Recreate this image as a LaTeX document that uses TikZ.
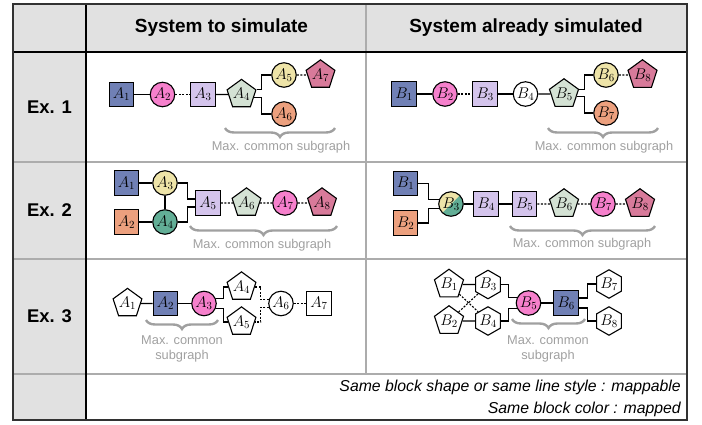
\RequirePackage{fix-cm}
\documentclass[tikz,border=0pt]{standalone}
\usepackage{fontspec}
\setmainfont{Liberation Sans}
\usetikzlibrary{shapes.geometric,decorations.pathreplacing,calc}
\definecolor{cblue}{RGB}{112,128,181}
\definecolor{cpink}{RGB}{246,128,204}
\definecolor{clav}{RGB}{212,196,236}
\definecolor{cgreen}{RGB}{212,226,212}
\definecolor{cyel}{RGB}{238,228,168}
\definecolor{crose}{RGB}{216,122,154}
\definecolor{csalm}{RGB}{236,160,126}
\definecolor{cteal}{RGB}{98,174,150}
\definecolor{cheader}{RGB}{225,225,225}
\definecolor{cgrid}{RGB}{172,172,172}
\definecolor{cborder}{RGB}{50,50,50}
\definecolor{cgray}{RGB}{160,160,160}
\begin{document}
\begin{tikzpicture}[x=1pt,y=-1pt,
  blk/.style={draw=black, line width=1.1pt, inner sep=0pt, font=\fontsize{15.5}{15.5}\selectfont},
  sq/.style={blk, rectangle, minimum size=24.5pt},
  cir/.style={blk, circle, minimum size=24.5pt},
  pent/.style={blk, regular polygon, regular polygon sides=5, minimum size=29pt},
  hex/.style={blk, regular polygon, regular polygon sides=6, shape border rotate=30, minimum size=27pt},
  ln/.style={line width=1.1pt},
  dl/.style={line width=1.1pt, dash pattern=on 2pt off 1.5pt},
  brc/.style={decorate, decoration={brace, mirror, amplitude=9pt}, line width=2.4pt, draw=cgray},
  mcs/.style={text=cgray, font=\fontsize{12.8}{15.5}\selectfont, align=center, inner sep=0pt},
  hd/.style={font=\bfseries\fontsize{19}{19}\selectfont, inner sep=0pt},
  extxt/.style={font=\bfseries\fontsize{18.4}{18.4}\selectfont, inner sep=0pt},
  note/.style={font=\itshape\fontsize{15.8}{16}\selectfont, inner sep=0pt, anchor=east},
  cgridline/.style={draw=cgrid, line width=1.2pt},
]
\useasboundingbox (0,0) rectangle (702,425);
% ---------- table ----------
\fill[cheader] (13,4) rectangle (687,52);
\fill[cheader] (13,52) rectangle (86,420);
\draw[cgridline] (13,162) -- (687,162);
\draw[cgridline] (13,259) -- (687,259);
\draw[cgridline] (13,374) -- (687,374);
\draw[cgridline] (366,4) -- (366,374);
\draw[line width=2.2pt] (86,4) -- (86,420);
\draw[line width=2.4pt] (13,52) -- (687,52);
\draw[cborder, line width=1.2pt] (13,4) rectangle (687,420);
\node[hd] (h1) at (221.5,28) {System to simulate};
\node[hd] (h2) at (526,28) {System already simulated};
\node[extxt] (e1) at (49.5,107) {Ex. 1};
\node[extxt] (e2) at (49.5,210.5) {Ex. 2};
\node[extxt] (e3) at (49.5,316) {Ex. 3};
\node[note] (n1) at (681,387) {Same block shape or same line style : mappable};
\node[note] (n2) at (681,409) {Same block color : mapped};
% ---------- Ex. 1 left ----------
\node[sq, fill=cblue] (r1a1) at (121.5,94.5) {$A_1$};
\node[cir, fill=cpink] (r1a2) at (162.5,94.5) {$A_2$};
\node[sq, fill=clav] (r1a3) at (203,94.5) {$A_3$};
\node[pent, fill=cgreen] (r1a4) at (241.5,94.5) {$A_4$};
\node[cir, fill=cyel] (r1a5) at (284,75) {$A_5$};
\node[pent, fill=crose] (r1a7) at (320.5,75) {$A_7$};
\node[cir, fill=csalm] (r1a6) at (284,114) {$A_6$};
\draw[ln] (r1a1) -- (r1a2);
\draw[dl] (r1a2) -- (r1a3);
\draw[ln] (r1a3) -- (r1a4);
\draw[ln] (r1a5.west) -- ++(-10,0) |- (r1a4.corner 5);
\draw[ln] (r1a6.west) -- ++(-10,0) |- (r1a4.-12);
\draw[dl] (r1a5) -- (r1a7);
\draw[brc] (225,128) -- (335,128);
\node[mcs] (r1la) at (281,147) {Max. common subgraph};
% ---------- Ex. 1 right ----------
\node[sq, fill=cblue] (r1b1) at (404,94) {$B_1$};
\node[cir, fill=cpink] (r1b2) at (445,94) {$B_2$};
\node[sq, fill=clav] (r1b3) at (485,94) {$B_3$};
\node[cir, fill=white] (r1b4) at (525.5,94) {$B_4$};
\node[pent, fill=cgreen] (r1b5) at (564,94) {$B_5$};
\node[cir, fill=cyel] (r1b6) at (606,75) {$B_6$};
\node[pent, fill=crose] (r1b8) at (642.5,75) {$B_8$};
\node[cir, fill=csalm] (r1b7) at (606,113) {$B_7$};
\draw[ln] (r1b1) -- (r1b2);
\draw[dl] (r1b2) -- (r1b3);
\draw[ln] (r1b3) -- (r1b4);
\draw[ln] (r1b4) -- (r1b5);
\draw[ln] (r1b6.west) -- ++(-9,0) |- (r1b5.corner 5);
\draw[ln] (r1b7.west) -- ++(-9,0) |- (r1b5.-12);
\draw[dl] (r1b6) -- (r1b8);
\draw[brc] (548,128) -- (658,128);
\node[mcs] (r1lb) at (604,147) {Max. common subgraph};
% ---------- Ex. 2 left ----------
\node[sq, fill=cblue] (r2a1) at (126.5,183) {$A_1$};
\node[sq, fill=csalm] (r2a2) at (126.5,222) {$A_2$};
\node[cir, fill=cyel] (r2a3) at (165,183) {$A_3$};
\node[cir, fill=cteal] (r2a4) at (165,222) {$A_4$};
\node[sq, fill=clav] (r2a5) at (208,203) {$A_5$};
\node[pent, fill=cgreen] (r2a6) at (246.5,203) {$A_6$};
\node[cir, fill=cpink] (r2a7) at (285,203) {$A_7$};
\node[pent, fill=crose] (r2a8) at (322,203) {$A_8$};
\draw[ln] (r2a1) -- (r2a3);
\draw[ln] (r2a2) -- (r2a4);
\draw[ln] (r2a3) -- (r2a4);
\draw[ln] (r2a3.east) -- ++(10,0) |- ([yshift=4pt]r2a5.west);
\draw[ln] (r2a4.east) -- ++(10,0) |- ([yshift=-4pt]r2a5.west);
\draw[dl] (r2a5) -- (r2a6);
\draw[dl] (r2a6) -- (r2a7);
\draw[dl] (r2a7) -- (r2a8);
\draw[brc] (190,226) -- (337,226);
\node[mcs] (r2la) at (262,245) {Max. common subgraph};
% ---------- Ex. 2 right ----------
\node[sq, fill=cblue] (r2b1) at (405.5,183.5) {$B_1$};
\node[sq, fill=csalm] (r2b2) at (405.5,223) {$B_2$};
\node[cir, fill=cteal, path picture={\fill[cyel] (path picture bounding box.south west) -- (path picture bounding box.north east) -- (path picture bounding box.north west) -- cycle;}] (r2b3) at (451,204) {$B_3$};
\node[sq, fill=clav] (r2b4) at (486,204) {$B_4$};
\node[sq, fill=clav] (r2b5) at (524.5,204) {$B_5$};
\node[pent, fill=cgreen] (r2b6) at (564,204) {$B_6$};
\node[cir, fill=cpink] (r2b7) at (603,204) {$B_7$};
\node[pent, fill=crose] (r2b8) at (640,204) {$B_8$};
\draw[ln] (r2b1.east) -- ++(10,0) |- (r2b3.160);
\draw[ln] (r2b2.east) -- ++(10,0) |- (r2b3.200);
\draw[ln] (r2b3) -- (r2b4);
\draw[ln] (r2b4) -- (r2b5);
\draw[dl] (r2b5) -- (r2b6);
\draw[dl] (r2b6) -- (r2b7);
\draw[dl] (r2b7) -- (r2b8);
\draw[brc] (510,226) -- (655,226);
\node[mcs] (r2lb) at (582,244) {Max. common subgraph};
% ---------- Ex. 3 left ----------
\node[pent, fill=white] (r3a1) at (127.5,303.5) {$A_1$};
\node[sq, fill=cblue] (r3a2) at (165.5,303.5) {$A_2$};
\node[cir, fill=cpink] (r3a3) at (204,303.5) {$A_3$};
\node[pent, fill=white] (r3a4) at (241.5,287) {$A_4$};
\node[pent, fill=white] (r3a5) at (241.5,322) {$A_5$};
\node[cir, fill=white] (r3a6) at (281,303.5) {$A_6$};
\node[sq, fill=white] (r3a7) at (319,303.5) {$A_7$};
\draw[ln] (r3a1) -- (r3a2);
\draw[ln] (r3a2) -- (r3a3);
\draw[ln] (r3a3.22) -- ++(8,0) |- (r3a4.west);
\draw[ln] (r3a3.-22) -- ++(8,0) |- (r3a5.west);
\draw[dl] (r3a6.163) -- ++(-8,0) |- (r3a4.east);
\draw[dl] (r3a6.197) -- ++(-8,0) |- (r3a5.east);
\draw[dl] (r3a6) -- (r3a7);
\draw[brc] (146,320) -- (218,320);
\node[mcs] (r3la) at (182,349) {Max. common\\subgraph};
% ---------- Ex. 3 right ----------
\node[pent, fill=white] (r3b1) at (449,284.5) {$B_1$};
\node[pent, fill=white] (r3b2) at (449,321) {$B_2$};
\node[hex, fill=white] (r3b3) at (488,284.5) {$B_3$};
\node[hex, fill=white] (r3b4) at (488,321) {$B_4$};
\node[cir, fill=cpink] (r3b5) at (528.5,303) {$B_5$};
\node[sq, fill=cblue] (r3b6) at (566,303) {$B_6$};
\node[hex, fill=white] (r3b7) at (609,284) {$B_7$};
\node[hex, fill=white] (r3b8) at (609,321) {$B_8$};
\draw[ln] (r3b1) -- (r3b3);
\draw[ln] (r3b2) -- (r3b4);
\draw[dl] (r3b1) -- (r3b4);
\draw[dl] (r3b2) -- (r3b3);
\draw[ln] (r3b3.east) -- ++(8,0) |- (r3b5.155);
\draw[ln] (r3b4.east) -- ++(8,0) |- (r3b5.205);
\draw[ln] (r3b5) -- (r3b6);
\draw[ln] ([yshift=5pt]r3b6.east) -- ++(9,0) |- (r3b7.west);
\draw[ln] ([yshift=-5pt]r3b6.east) -- ++(9,0) |- (r3b8.west);
\draw[brc] (512,319) -- (585,319);
\node[mcs] (r3lb) at (548,349) {Max. common\\subgraph};
\end{tikzpicture}
\end{document}
